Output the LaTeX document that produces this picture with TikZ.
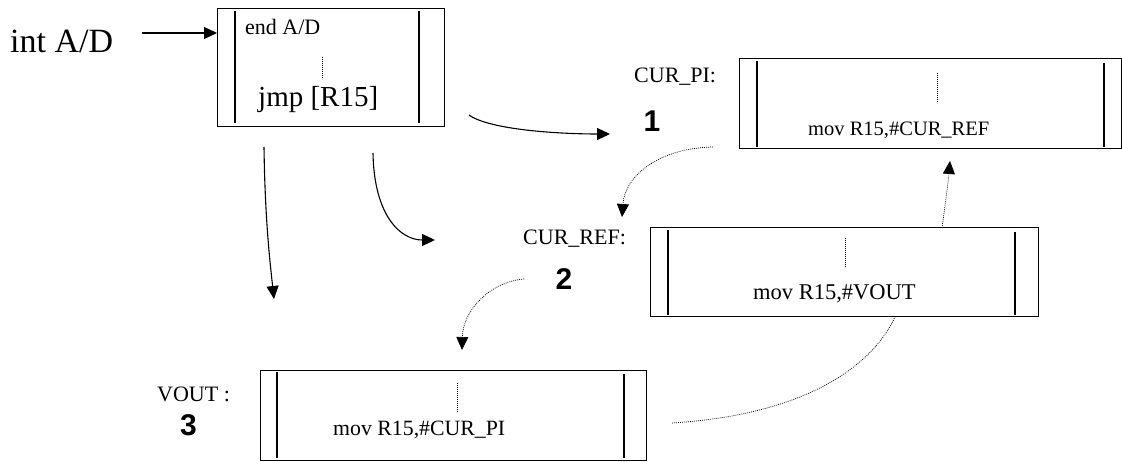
\documentclass[tikz,border=0pt]{standalone}
\usepackage{fontspec}
\setmainfont{Liberation Serif}
\newfontfamily\numfont{Liberation Sans}
\usetikzlibrary{arrows.meta}
\begin{document}
\begin{tikzpicture}[x=1pt,y=-1pt,
  box/.style={draw, line width=1pt, inner sep=0pt, outer sep=0pt},
  innerline/.style={line width=1.3pt},
  dotline/.style={line width=0.7pt, dash pattern=on 0.9pt off 1.1pt},
  tip/.style={-{Triangle[length=13pt,width=12pt]}},
  solidarrow/.style={line width=1.1pt, tip},
  dotarrow/.style={dotline, tip},
  lbl/.style={inner sep=0pt, anchor=base west},
  num/.style={inner sep=0pt, anchor=base, font=\numfont\bfseries\fontsize{30}{32}\selectfont},
  fa/.style={font=\fontsize{22}{24}\selectfont}
]
\useasboundingbox (0,0) rectangle (1122,462);

% boxes
\node[box, minimum width=227pt, minimum height=118pt] (A) at (330.5,68) {};
\node[box, minimum width=382pt, minimum height=90pt] (P) at (930,104) {};
\node[box, minimum width=388pt, minimum height=89pt] (R) at (844,272.5) {};
\node[box, minimum width=386pt, minimum height=90pt] (V) at (453,415) {};

% inner vertical lines
\draw[innerline] ([xshift=18pt,yshift=-2pt]A.north west) -- ([xshift=18pt,yshift=4pt]A.south west);
\draw[innerline] ([xshift=-25pt,yshift=-2pt]A.north east) -- ([xshift=-25pt,yshift=4pt]A.south east);
\draw[innerline] ([xshift=18pt,yshift=-2pt]P.north west) -- ([xshift=18pt,yshift=2pt]P.south west);
\draw[innerline] ([xshift=-17pt,yshift=-4pt]P.north east) -- ([xshift=-17pt,yshift=2pt]P.south east);
\draw[innerline] ([xshift=18pt,yshift=-2pt]R.north west) -- ([xshift=18pt,yshift=2pt]R.south west);
\draw[innerline] ([xshift=-23pt,yshift=-4pt]R.north east) -- ([xshift=-23pt,yshift=2pt]R.south east);
\draw[innerline] ([xshift=17pt,yshift=-2pt]V.north west) -- ([xshift=17pt,yshift=2pt]V.south west);
\draw[innerline] ([xshift=-22pt,yshift=-4pt]V.north east) -- ([xshift=-22pt,yshift=2pt]V.south east);

% dotted verticals inside boxes
\draw[dotline] (322,57) -- (322,79);
\draw[dotline] (937,73) -- (937,103);
\draw[dotline] (845,238) -- (845,268);
\draw[dotline] (457,383) -- (457,412);

% texts
\node[lbl, font=\fontsize{34}{36}\selectfont] (intad) at (10,53) {int A/D};
\node[lbl, fa] (endad) at (245,35) {end A/D};
\node[lbl, font=\fontsize{29}{31}\selectfont] (jmp) at (258,107) {jmp [R15]};
\node[lbl, fa] (lpi) at (634,83) {CUR\_PI:};
\node[num] (n1) at (652,132) {1};
\node[lbl, fa] (lref) at (523,245) {CUR\_REF:};
\node[num] (n2) at (564,290) {2};
\node[lbl, fa] (lvout) at (157,401) {VOUT :};
\node[num] (n3) at (188.5,435) {3};
\node[lbl, font=\fontsize{20.5}{22}\selectfont] (tpi) at (808,136) {mov R15,\#CUR\_REF};
\node[lbl, font=\fontsize{22.5}{24}\selectfont] (tref) at (753,300) {mov R15,\#VOUT};
\node[lbl, font=\fontsize{21.8}{24}\selectfont] (tvout) at (333,435) {mov R15,\#CUR\_PI};

% connector end points
\coordinate (s0) at (142,33);
\coordinate (s1) at (469,115);
\coordinate (e1) at (610,134);
\coordinate (s2) at (264,147);
\coordinate (e2) at (274,299);
\coordinate (s3) at (373,153);
\coordinate (e3) at (435,240);
\coordinate (s4) at (713,147);
\coordinate (e4) at (622,217);
\coordinate (s5) at (524,279);
\coordinate (e5) at (462,350);
\coordinate (s6) at (942,228);
\coordinate (e6) at (950,161);
\coordinate (s7) at (672,423);
\coordinate (e7) at (895,317);

% connectors
\draw[solidarrow] (s0) -- (A.west |- s0);
\draw[solidarrow] (s1) .. controls (490,130) and (560,134) .. (e1);
\draw[solidarrow] (s2) .. controls (265,220) and (270,262) .. (e2);
\draw[solidarrow] (s3) .. controls (374,215) and (400,240) .. (e3);
\draw[dotarrow] (s4) .. controls (660,148) and (625,175) .. (e4);
\draw[dotarrow] (s5) .. controls (490,282) and (463,310) .. (e5);
\draw[dotarrow] (s6) .. controls (945,205) and (948,185) .. (e6);
\draw[dotline] (s7) .. controls (800,415) and (870,370) .. (e7);
\end{tikzpicture}
\end{document}
